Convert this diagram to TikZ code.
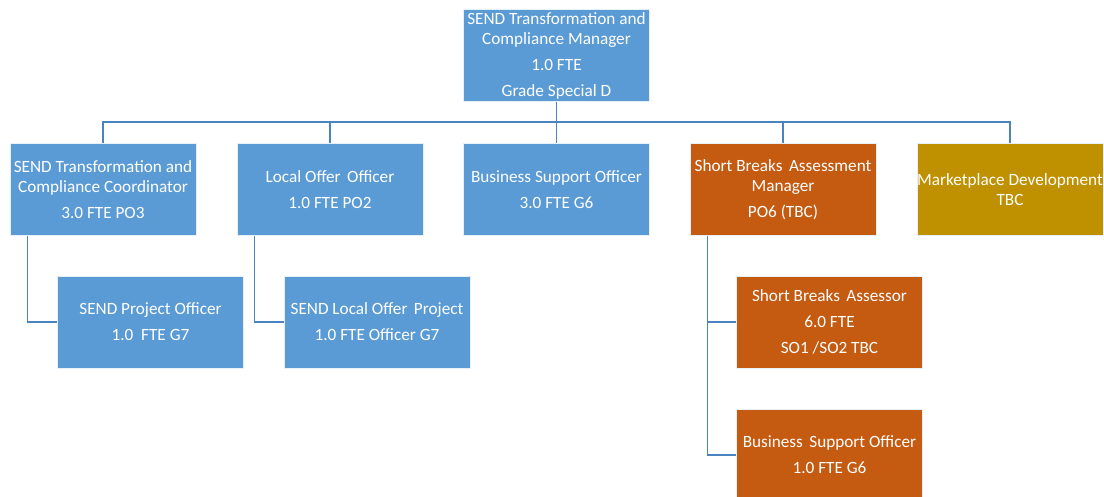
\documentclass[tikz,border=0pt]{standalone}
\usepackage{fontspec}
\setmainfont{Carlito}
\usetikzlibrary{calc}
\definecolor{boxblue}{HTML}{5B9BD5}
\definecolor{boxorange}{HTML}{C55A11}
\definecolor{boxgold}{HTML}{BF9000}
\definecolor{linkblue}{HTML}{4A84C0}
\tikzset{
  orgbox/.style={draw=white!85!boxblue, line width=0.8pt, text=white, align=center,
    minimum width=186pt, minimum height=92pt, inner sep=0pt,
    font=\fontsize{17.2}{20}\selectfont},
  blue box/.style={orgbox, fill=boxblue},
  orange box/.style={orgbox, fill=boxorange},
  gold box/.style={orgbox, fill=boxgold},
  link/.style={draw=linkblue, line width=1.6pt}
}
\begin{document}
\begin{tikzpicture}[x=1pt,y=-1pt]
\useasboundingbox[fill=white] (0,0) rectangle (1104,496);
% top
\node[blue box] (top) at (556.5,55.5) {SEND Transformation and\\Compliance Manager\\[6pt]1.0 FTE\\[6pt]Grade Special D};
% row 2
\node[blue box] (b1) at (103,189.5) {SEND Transformation and\\Compliance Coordinator\\[6pt]3.0 FTE PO3};
\node[blue box] (b2) at (330,189.5) {Local Offer\hspace{0.15em} Officer\\[6pt]1.0 FTE PO2};
\node[blue box] (b3) at (556.5,189.5) {Business Support Officer\\[6pt]3.0 FTE G6};
\node[orange box] (b4) at (783,189.5) {Short Breaks\hspace{0.15em} Assessment\\Manager\\[6pt]PO6 (TBC)};
\node[gold box] (b5) at (1010,189.5) {Marketplace Development\\TBC};
% row 3
\node[blue box] (s1) at (150.5,322) {SEND Project Officer\\[6pt]1.0\ \ FTE G7};
\node[blue box] (s2) at (377,322) {SEND Local Offer\hspace{0.15em} Project\\[6pt]1.0 FTE Officer G7};
\node[orange box] (s3) at (829.5,322) {Short Breaks\hspace{0.15em} Assessor\\[6pt]6.0 FTE\\[6pt]SO1 /SO2 TBC};
\node[orange box] (s4) at (829.5,455) {Business\hspace{0.15em} Support Officer\\[6pt]1.0 FTE G6};
% connectors
\coordinate (bus) at (556.5,122);
\draw[link] (top.south) -- (b3.north);
\draw[link] (b1.north) -- (b1.north |- bus) -- (b5.north |- bus) -- (b5.north);
\draw[link] (b2.north |- bus) -- (b2.north);
\draw[link] (b4.north |- bus) -- (b4.north);
\draw[link] ($(b1.south west)+(18,0)$) |- (s1.west);
\draw[link] ($(b2.south west)+(18,0)$) |- (s2.west);
\draw[link] ($(b4.south west)+(18,0)$) |- (s3.west);
\draw[link] ($(b4.south west)+(18,0)$) |- (s4.west);
\end{tikzpicture}
\end{document}
